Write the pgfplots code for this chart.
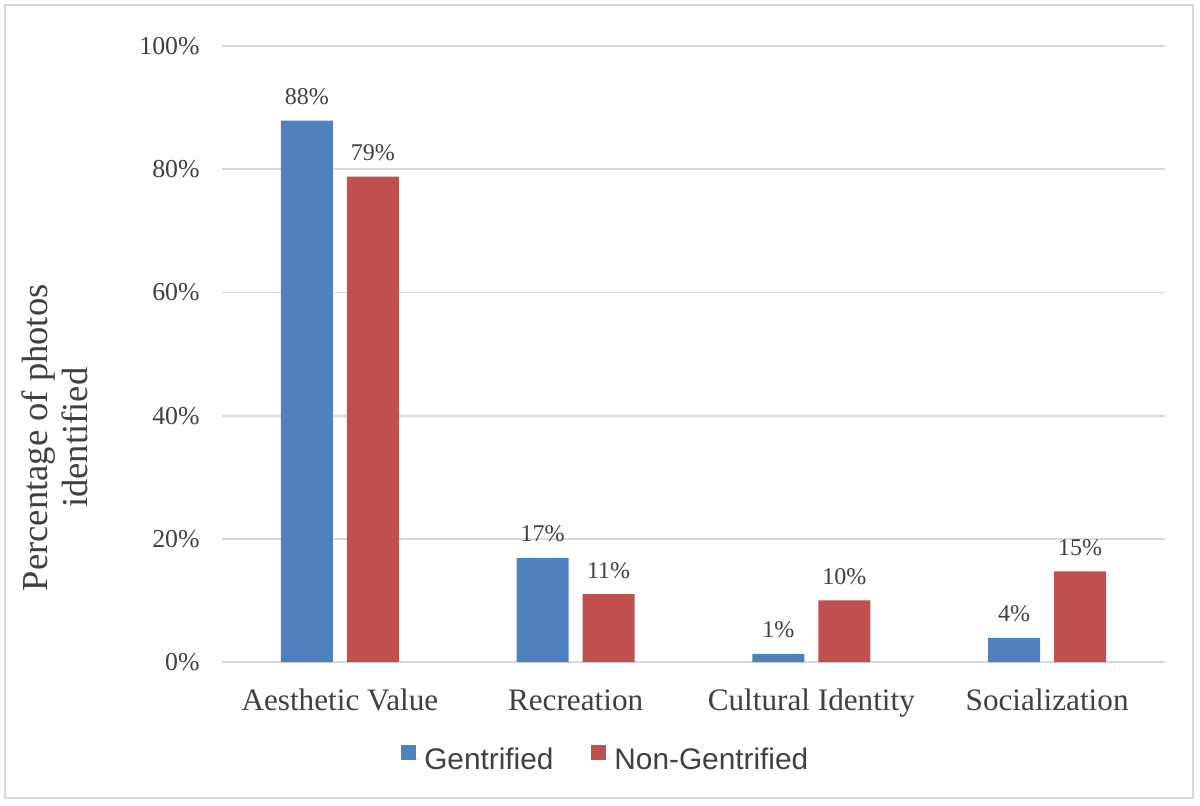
\documentclass[border=0pt]{standalone}
\usepackage{fontspec}
\setmainfont{Liberation Serif}
\newfontfamily\legendfont{Liberation Sans}
\usepackage{pgfplots}
\usepackage{pgfplotstable}
\pgfplotsset{compat=1.18}

\definecolor{gentblue}{HTML}{4F81BD}
\definecolor{nongentred}{HTML}{C0504D}
\definecolor{gridgray}{HTML}{D9D9D9}
\definecolor{textgray}{HTML}{404040}

% share of photos (%) per theme
\pgfplotstableread{
idx gent nongent
0   87.9 78.8
1   16.9 11.0
2   1.3  10.0
3   3.9  14.7
}\themes

\begin{document}
\begin{tikzpicture}
\useasboundingbox (0,0) rectangle (600pt,402.5pt);
\draw[gridgray, line width=0.9pt] (2.5pt,3.5pt) rectangle (596.5pt,400pt);
\begin{axis}[
    at={(111pt,71.5pt)}, anchor=south west,
    scale only axis, width=471.5pt, height=308pt,
    xmin=-0.5, xmax=3.5, ymin=0, ymax=100,
    axis line style={draw=none},
    major tick length=0pt,
    xtick={0,1,2,3},
    xticklabels={Aesthetic Value,Recreation,Cultural Identity,Socialization},
    ytick={0,20,40,60,80,100},
    yticklabels={0\%,20\%,40\%,60\%,80\%,100\%},
    ymajorgrids,
    major grid style={gridgray, line width=0.9pt},
    xticklabel style={anchor=base, yshift=-24pt, inner sep=0pt,
        font=\fontsize{15.6}{18}\selectfont, text=textgray},
    yticklabel style={anchor=east, inner sep=0pt, xshift=-11pt,
        font=\fontsize{12.9}{15}\selectfont, text=textgray},
    ylabel={Percentage of photos\\identified},
    ylabel style={at={(axis description cs:-0.177,0.364)}, anchor=center,
        align=center, font=\fontsize{18.3}{20}\selectfont, text=textgray},
    /pgf/number format/assume math mode=true,
    nodes near coords={\pgfmathprintnumber[fixed,precision=0]{\pgfplotspointmeta}\%},
    every node near coord/.append style={anchor=base, yshift=8pt,
        font=\fontsize{12}{14}\selectfont, text=textgray},
    legend columns=2,
    legend cell align=left,
    legend style={at={(0.408,-0.159)}, anchor=center, draw=none,
        font=\legendfont\fontsize{14.9}{17}\selectfont, text=textgray,
        /tikz/every even column/.append style={column sep=17pt}},
    legend image code/.code={\fill[#1] (0pt,0pt) rectangle (7.5pt,7.5pt);
        \path (0pt,0pt) -- (9.5pt,0pt);},
]
\addplot[ybar, bar width=26pt, bar shift=-16.5pt, fill=gentblue, draw=none,
    every node near coord/.append style={xshift=-16.5pt}]
    table[x=idx, y=gent] {\themes};
\addlegendentry{Gentrified}
\addplot[ybar, bar width=26pt, bar shift=16.5pt, fill=nongentred, draw=none,
    every node near coord/.append style={xshift=16.5pt}]
    table[x=idx, y=nongent] {\themes};
\addlegendentry{Non-Gentrified}
\end{axis}
\end{tikzpicture}
\end{document}
